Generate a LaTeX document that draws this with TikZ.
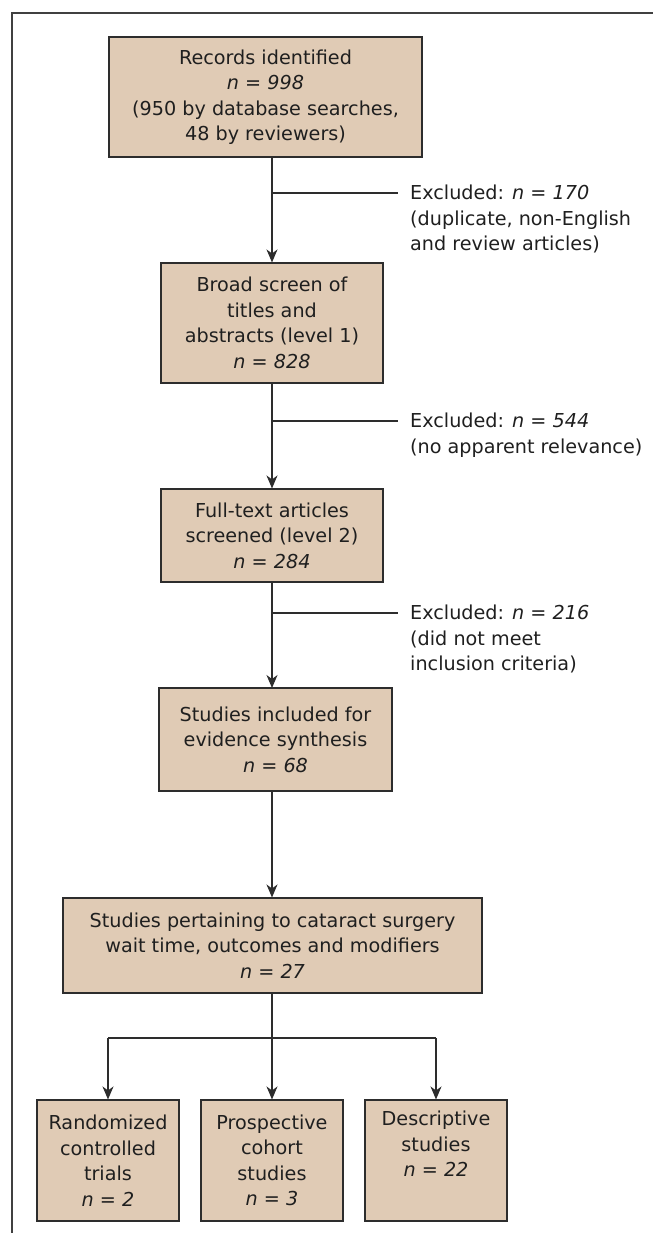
\documentclass[tikz,border=0pt]{standalone}
\usepackage{fontspec}
\setmainfont{DejaVu Sans}
\usetikzlibrary{arrows.meta}
\definecolor{boxfill}{RGB}{224,203,181}
\definecolor{boxline}{RGB}{45,45,45}
\begin{document}
\begin{tikzpicture}[x=1pt,y=-1pt,
  every node/.style={font=\fontsize{19.2}{25.5}\selectfont, text=black!88},
  stagebox/.style={draw=boxline, fill=boxfill, line width=1.1pt, align=center, inner sep=0pt},
  note/.style={align=left, anchor=north west, inner sep=0pt},
  arr/.style={draw=boxline, line width=1.1pt, -{Stealth[length=13pt,width=11pt,inset=4pt]}},
  ln/.style={draw=boxline, line width=1.1pt}]
\useasboundingbox (0,0) rectangle (653,1233);
% frame
\draw[line width=1.3pt, draw=black!75] (12,1233) -- (12,13) -- (653,13);
% main boxes
\node[stagebox, minimum width=313pt, minimum height=120pt] (b1) at (265.5,97)
  {Records identified\\\textit{n = 998}\\(950 by database searches,\\48 by reviewers)};
\node[stagebox, minimum width=222pt, minimum height=120pt] (b2) at (272,323)
  {Broad screen of\\titles and\\abstracts (level 1)\\\textit{n = 828}};
\node[stagebox, minimum width=222pt, minimum height=93pt] (b3) at (272,535.5)
  {Full-text articles\\screened (level 2)\\\textit{n = 284}};
\node[stagebox, minimum width=233pt, minimum height=103pt] (b4) at (275.5,739.5)
  {Studies included for\\evidence synthesis\\\textit{n = 68}};
\node[stagebox, minimum width=419pt, minimum height=95pt] (b5) at (272.5,945.5)
  {Studies pertaining to cataract surgery\\wait time, outcomes and modifiers\\\textit{n = 27}};
\node[stagebox, minimum width=142pt, minimum height=121pt] (c1) at (108,1160.5)
  {Randomized\\controlled\\trials\\\textit{n = 2}};
\node[stagebox, minimum width=142pt, minimum height=121pt] (c2) at (272,1160.5)
  {Prospective\\cohort\\studies\\\textit{n = 3}};
\node[stagebox, minimum width=142pt, minimum height=121pt] (c3) at (436,1160.5)
  {Descriptive\\studies\\\textit{n = 22}\\\strut};
% exclusion notes
\node[note] (e1) at (410,185) {Excluded: \textit{n = 170}\\(duplicate, non-English\\and review articles)};
\node[note] (e2) at (410,413) {Excluded: \textit{n = 544}\\(no apparent relevance)};
\node[note] (e3) at (410,605) {Excluded: \textit{n = 216}\\(did not meet\\inclusion criteria)};
% axis coordinates
\coordinate (a1) at (272,157);
\coordinate (j1) at (272,193);
\coordinate (j2) at (272,421);
\coordinate (j3) at (272,613);
\coordinate (k1) at (398,193);
\coordinate (k2) at (398,421);
\coordinate (k3) at (398,613);
\coordinate (a4) at (272,791);
\coordinate (a4t) at (272,688);
\coordinate (sp) at (272,1038);
\coordinate (sl) at (108,1038);
\coordinate (sr) at (436,1038);
% connectors
\draw[arr] (a1) -- (b2.north);
\draw[ln] (j1) -- (k1);
\draw[arr] (b2.south) -- (b3.north);
\draw[ln] (j2) -- (k2);
\draw[arr] (b3.south) -- (a4t);
\draw[ln] (j3) -- (k3);
\draw[arr] (a4) -- (b5.north -| a4);
\draw[ln] (b5.south -| sp) -- (sp);
\draw[arr] (sp) -- (c2.north);
\draw[ln] (sl) -- (sr);
\draw[arr] (sl) -- (c1.north);
\draw[arr] (sr) -- (c3.north);
\end{tikzpicture}
\end{document}
